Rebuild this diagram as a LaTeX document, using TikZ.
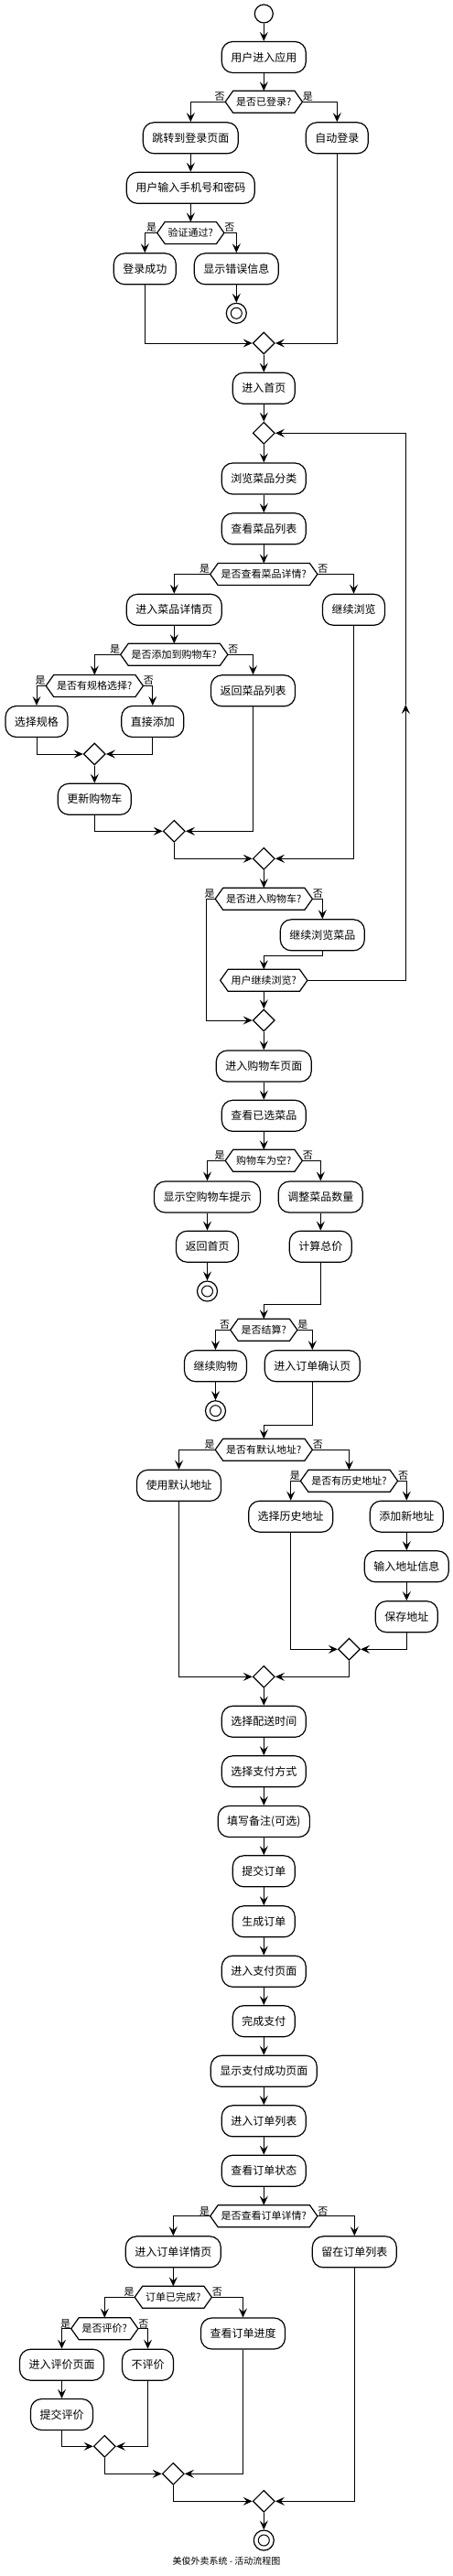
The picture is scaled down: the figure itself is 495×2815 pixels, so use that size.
\documentclass[tikz,border=0pt]{standalone}
\usepackage{fontspec}
\newfontfamily\cjk{Noto Sans CJK SC}
\usetikzlibrary{arrows.meta,shapes.geometric}
\tikzset{
 act/.style={draw, line width=1.2pt, rectangle, rounded corners=12pt, minimum height=34pt, inner xsep=10pt, inner ysep=0pt, fill=white, font=\cjk\fontsize{12pt}{14pt}\selectfont},
 hex/.style={rectangle, minimum height=24pt, inner xsep=12pt, inner ysep=0pt, outer sep=0pt, font=\cjk\fontsize{11pt}{13pt}\selectfont},
 hexline/.style={draw, line width=1.2pt, line join=miter},
 lab/.style={inner sep=0pt, font=\cjk\fontsize{11pt}{13pt}\selectfont},
 merge/.style={diamond, draw, line width=1.2pt, minimum width=24pt, minimum height=24pt, inner sep=0pt, fill=white},
 startnode/.style={circle, draw, line width=1.2pt, minimum size=20pt, inner sep=0pt},
 endout/.style={circle, draw, line width=1.2pt, minimum size=22pt, inner sep=0pt},
 endin/.style={circle, draw, line width=1pt, minimum size=12pt, inner sep=0pt},
 arr/.style={line width=1pt, -{Stealth[length=10pt,width=9pt,inset=4pt]}},
 ln/.style={line width=1pt},
}
\newcommand\myhex[6]{%
 \node[hex] (#1) at (#2,#3) {#4};
 \draw[hexline] ([xshift=8.5pt]#1.north west) -- ([xshift=-8.5pt]#1.north east) -- (#1.east) -- ([xshift=-8.5pt]#1.south east) -- ([xshift=8.5pt]#1.south west) -- (#1.west) -- cycle;
 \node[lab] (#1L) at ([xshift=-6pt,yshift=5.5pt]#1.west) {#5};
 \node[lab] (#1R) at ([xshift=6pt,yshift=5.5pt]#1.east) {#6};
}
\begin{document}
\begin{tikzpicture}[x=1pt,y=-1pt]
\useasboundingbox (0,0) rectangle (495,2815);
\fill[white] (0,0) rectangle (495,2815);

% ---- login ----
\node[startnode] (start) at (288.3,15) {};
\node[act] (n1) at (288.3,62.5) {用户进入应用};
\myhex{h1}{288.3}{111.3}{是否已登录?}{否}{是}
\node[act] (n2) at (208.3,150.8) {跳转到登录页面};
\node[act] (n3) at (368.3,150.8) {自动登录};
\node[act] (n4) at (208.3,205.3) {用户输入手机号和密码};
\myhex{h2}{208.3}{254.5}{验证通过?}{是}{否}
\node[act] (n5) at (158.3,293.8) {登录成功};
\node[act] (n6) at (258.3,293.8) {显示错误信息};
\node[endout] (e1) at (258.3,342.3) {};
\node[endin] (e1i) at (258.3,342.3) {};
\node[merge] (d1) at (288.3,375) {};
\node[act] (n7) at (288.3,424.3) {进入首页};
\node[merge] (d2) at (288.3,473.3) {};

% ---- browsing ----
\node[act] (n8) at (288.3,523) {浏览菜品分类};
\node[act] (n9) at (288.3,577.8) {查看菜品列表};
\myhex{h3}{288.3}{627.5}{是否查看菜品详情?}{是}{否}
\node[act] (n10) at (190.3,666.3) {进入菜品详情页};
\node[act] (n11) at (386.5,666.3) {继续浏览};
\myhex{h4}{190.3}{715.3}{是否添加到购物车?}{是}{否}
\myhex{h5}{103.3}{749.5}{是否有规格选择?}{是}{否}
\node[act] (n12) at (276.5,754.8) {返回菜品列表};
\node[act] (n13) at (40,788.5) {选择规格};
\node[act] (n14) at (166.8,788.5) {直接添加};
\node[merge] (d3) at (103.3,824) {};
\node[act] (n15) at (103.3,873.3) {更新购物车};
\node[merge] (d4) at (190.3,908.3) {};
\node[merge] (d5) at (288.3,938.3) {};
\myhex{h6}{288.3}{982.3}{是否进入购物车?}{是}{否}
\node[act] (n16) at (352.3,1021.8) {继续浏览菜品};
\node[hex] (h7) at (288.3,1071.3) {用户继续浏览?};
\draw[hexline] ([xshift=8.5pt]h7.north west) -- ([xshift=-8.5pt]h7.north east) -- (h7.east) -- ([xshift=-8.5pt]h7.south east) -- ([xshift=8.5pt]h7.south west) -- (h7.west) -- cycle;
\node[merge] (d6) at (288.3,1115) {};

% ---- cart ----
\node[act] (n17) at (288.3,1165) {进入购物车页面};
\node[act] (n18) at (288.3,1219.3) {查看已选菜品};
\myhex{h8}{288.3}{1268.3}{购物车为空?}{是}{否}
\node[act] (n19) at (226.5,1308) {显示空购物车提示};
\node[act] (n20) at (350.3,1308) {调整菜品数量};
\node[act] (n21) at (226.5,1362.2) {返回首页};
\node[act] (n22) at (350.3,1362.2) {计算总价};
\node[endout] (e2) at (226.5,1411) {};
\node[endin] (e2i) at (226.5,1411) {};
\myhex{h9}{288.3}{1453.3}{是否结算?}{否}{是}
\node[act] (n23) at (235.5,1492.7) {继续购物};
\node[act] (n24) at (341.3,1492.7) {进入订单确认页};
\node[endout] (e3) at (235.5,1541.7) {};
\node[endin] (e3i) at (235.5,1541.7) {};

% ---- address ----
\myhex{h10}{288.3}{1584.2}{是否有默认地址?}{是}{否}
\node[act] (n25) at (195.5,1623.3) {使用默认地址};
\myhex{h11}{381.5}{1618.3}{是否有历史地址?}{是}{否}
\node[act] (n26) at (317.7,1657.2) {选择历史地址};
\node[act] (n27) at (444.3,1657.2) {添加新地址};
\node[act] (n28) at (444.3,1711.8) {输入地址信息};
\node[act] (n29) at (444.3,1766.7) {保存地址};
\node[merge] (d7) at (381.5,1802.3) {};
\node[merge] (d8) at (288.3,1832.3) {};

% ---- order ----
\node[act] (n30) at (288.3,1881.3) {选择配送时间};
\node[act] (n31) at (288.3,1935.8) {选择支付方式};
\node[act] (n32) at (288.3,1990.5) {填写备注(可选)};
\node[act] (n33) at (288.3,2044.8) {提交订单};
\node[act] (n34) at (288.3,2099.8) {生成订单};
\node[act] (n35) at (288.3,2154.2) {进入支付页面};
\node[act] (n36) at (288.3,2208.7) {完成支付};
\node[act] (n37) at (288.3,2263.3) {显示支付成功页面};
\node[act] (n38) at (288.3,2317.8) {进入订单列表};
\node[act] (n39) at (288.3,2372.2) {查看订单状态};
\myhex{h12}{288.3}{2421.7}{是否查看订单详情?}{是}{否}
\node[act] (n40) at (189.3,2460.8) {进入订单详情页};
\node[act] (n41) at (387.3,2460.8) {留在订单列表};
\myhex{h13}{189.3}{2510.3}{订单已完成?}{是}{否}
\myhex{h14}{114.3}{2544.7}{是否评价?}{是}{否}
\node[act] (n42) at (265.5,2550) {查看订单进度};
\node[act] (n43) at (67.5,2584.2) {进入评价页面};
\node[act] (n44) at (161.5,2584.2) {不评价};
\node[act] (n45) at (67.5,2638.5) {提交评价};
\node[merge] (d9) at (114.3,2673.3) {};
\node[merge] (d10) at (189.3,2703.3) {};
\node[merge] (d11) at (288.3,2733.3) {};
\node[endout] (e4) at (288.3,2776) {};
\node[endin] (e4i) at (288.3,2776) {};
\node[font=\cjk\fontsize{10pt}{12pt}\selectfont, inner sep=0pt] (cap) at (247.5,2799) {美俊外卖系统 - 活动流程图};

% ---- bend coordinates ----
\coordinate (c6) at (225.7,982.3);
\coordinate (c16) at (352.3,1044);
\coordinate (cup) at (443.3,770);
\coordinate (ctop) at (443.3,473.3);
\coordinate (c22) at (350.3,1425.7);
\coordinate (c24) at (341.3,1557.3);

% ---- connectors ----
\draw[arr] (start.south) -- (n1.north);
\draw[arr] (n1.south) -- (h1.north);
\draw[arr] (h1.west) -| (n2.north);
\draw[arr] (h1.east) -| (n3.north);
\draw[arr] (n2.south) -- (n4.north);
\draw[arr] (n4.south) -- (h2.north);
\draw[arr] (h2.west) -| (n5.north);
\draw[arr] (h2.east) -| (n6.north);
\draw[arr] (n6.south) -- (e1.north);
\draw[arr] (n5.south) |- (d1.west);
\draw[arr] (n3.south) |- (d1.east);
\draw[arr] (d1.south) -- (n7.north);
\draw[arr] (n7.south) -- (d2.north);
\draw[arr] (d2.south) -- (n8.north);
\draw[arr] (n8.south) -- (n9.north);
\draw[arr] (n9.south) -- (h3.north);
\draw[arr] (h3.west) -| (n10.north);
\draw[arr] (h3.east) -| (n11.north);
\draw[arr] (n10.south) -- (h4.north);
\draw[arr] (h4.west) -| (h5.north);
\draw[arr] (h4.east) -| (n12.north);
\draw[arr] (h5.west) -| (n13.north);
\draw[arr] (h5.east) -| (n14.north);
\draw[arr] (n13.south) |- (d3.west);
\draw[arr] (n14.south) |- (d3.east);
\draw[arr] (d3.south) -- (n15.north);
\draw[arr] (n15.south) |- (d4.west);
\draw[arr] (n12.south) |- (d4.east);
\draw[arr] (d4.south) |- (d5.west);
\draw[arr] (n11.south) |- (d5.east);
\draw[arr] (d5.south) -- (h6.north);
\draw[arr] (h6.west) -- (c6) |- (d6.west);
\draw[arr] (h6.east) -| (n16.north);
\draw[arr] (n16.south) -- (c16) -| (h7.north);
\draw[arr] (h7.east) -| (cup);
\draw[arr] (cup) -- (ctop) -- (d2.east);
\draw[arr] (h7.south) -- (d6.north);
\draw[arr] (d6.south) -- (n17.north);
\draw[arr] (n17.south) -- (n18.north);
\draw[arr] (n18.south) -- (h8.north);
\draw[arr] (h8.west) -| (n19.north);
\draw[arr] (h8.east) -| (n20.north);
\draw[arr] (n19.south) -- (n21.north);
\draw[arr] (n21.south) -- (e2.north);
\draw[arr] (n20.south) -- (n22.north);
\draw[arr] (n22.south) -- (c22) -| (h9.north);
\draw[arr] (h9.west) -| (n23.north);
\draw[arr] (h9.east) -| (n24.north);
\draw[arr] (n23.south) -- (e3.north);
\draw[arr] (n24.south) -- (c24) -| (h10.north);
\draw[arr] (h10.west) -| (n25.north);
\draw[arr] (h10.east) -| (h11.north);
\draw[arr] (h11.west) -| (n26.north);
\draw[arr] (h11.east) -| (n27.north);
\draw[arr] (n27.south) -- (n28.north);
\draw[arr] (n28.south) -- (n29.north);
\draw[arr] (n26.south) |- (d7.west);
\draw[arr] (n29.south) |- (d7.east);
\draw[arr] (n25.south) |- (d8.west);
\draw[arr] (d7.south) |- (d8.east);
\draw[arr] (d8.south) -- (n30.north);
\draw[arr] (n30.south) -- (n31.north);
\draw[arr] (n31.south) -- (n32.north);
\draw[arr] (n32.south) -- (n33.north);
\draw[arr] (n33.south) -- (n34.north);
\draw[arr] (n34.south) -- (n35.north);
\draw[arr] (n35.south) -- (n36.north);
\draw[arr] (n36.south) -- (n37.north);
\draw[arr] (n37.south) -- (n38.north);
\draw[arr] (n38.south) -- (n39.north);
\draw[arr] (n39.south) -- (h12.north);
\draw[arr] (h12.west) -| (n40.north);
\draw[arr] (h12.east) -| (n41.north);
\draw[arr] (n40.south) -- (h13.north);
\draw[arr] (h13.west) -| (h14.north);
\draw[arr] (h13.east) -| (n42.north);
\draw[arr] (h14.west) -| (n43.north);
\draw[arr] (h14.east) -| (n44.north);
\draw[arr] (n43.south) -- (n45.north);
\draw[arr] (n45.south) |- (d9.west);
\draw[arr] (n44.south) |- (d9.east);
\draw[arr] (d9.south) |- (d10.west);
\draw[arr] (n42.south) |- (d10.east);
\draw[arr] (d10.south) |- (d11.west);
\draw[arr] (n41.south) |- (d11.east);
\draw[arr] (d11.south) -- (e4.north);
\end{tikzpicture}
\end{document}
